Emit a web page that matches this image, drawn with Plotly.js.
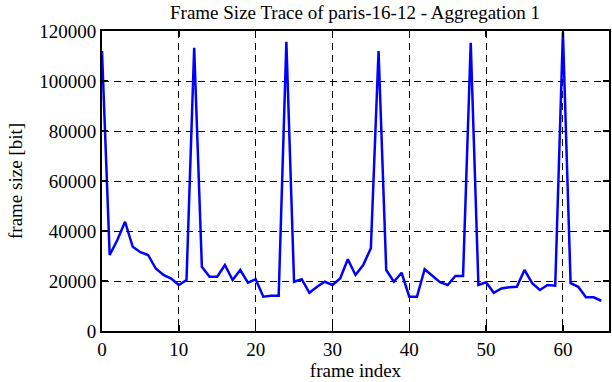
<!DOCTYPE html>
<html>
<head>
<meta charset="utf-8">
<script src="https://cdn.plot.ly/plotly-3.0.1.min.js"></script>
<style>
html,body{margin:0;padding:0;background:#fff;}
#chart{width:612px;height:382px;}
</style>
</head>
<body>
<div id="chart"></div>
<script>
const frameIndex = [];
for (let i = 0; i <= 65; i++) frameIndex.push(i);
const frameSize = [
  112000, 30400, 36400, 43700, 33700, 31500, 30400, 25000, 22400, 21000,
  18400, 20400, 113300, 25700, 21700, 21700, 26400, 20400, 24400, 19300,
  20700, 13700, 14100, 14100, 115700, 19700, 20700, 15300, 17700, 19700,
  18400, 21000, 28700, 22400, 26400, 33100, 112000, 24400, 19700, 23300,
  13700, 13700, 24700, 22000, 19500, 18400, 22000, 22000, 115300, 18400,
  19500, 15300, 17000, 17500, 17700, 24400, 19100, 16400, 18400, 18100,
  119500, 19100, 17700, 13500, 13500, 12100
];
const yTicks = [0, 20000, 40000, 60000, 80000, 100000, 120000];
const xTicks = [0, 10, 20, 30, 40, 50, 60];

const font = {family: '"Liberation Serif", "Times New Roman", serif', color: '#000'};

const trace = {
  x: frameIndex, y: frameSize, type: 'scatter', mode: 'lines',
  line: {color: '#0000ff', width: 2.5}, hoverinfo: 'none', cliponaxis: true
};

const layout = {
  width: 612, height: 382,
  margin: {l: 102, r: 3, t: 31, b: 51},
  paper_bgcolor: '#fff', plot_bgcolor: '#fff',
  showlegend: false,
  font: Object.assign({size: 19}, font),
  title: {text: 'Frame Size Trace of paris-16-12 - Aggregation 1', font: Object.assign({size: 19}, font),
          x: 0.58, xanchor: 'center', y: 0.985, yanchor: 'top'},
  xaxis: {
    range: [0, 66], tickvals: xTicks, ticktext: xTicks.map(String),
    showgrid: true, gridcolor: '#000', griddash: '7px,5px', gridwidth: 1,
    zeroline: false, showline: true, linecolor: '#000', linewidth: 2, mirror: 'ticks',
    ticks: 'inside', ticklen: 6, tickcolor: '#000', tickwidth: 1.5,
    tickfont: Object.assign({size: 19}, font),
    title: {text: 'frame index', font: Object.assign({size: 19}, font), standoff: 2}
  },
  yaxis: {
    range: [0, 120000], tickvals: yTicks, ticktext: yTicks.map(String),
    showgrid: true, gridcolor: '#000', griddash: '7px,5px', gridwidth: 1,
    zeroline: false, showline: true, linecolor: '#000', linewidth: 2, mirror: 'ticks',
    ticks: 'inside', ticklen: 6, tickcolor: '#000', tickwidth: 1.5,
    tickfont: Object.assign({size: 19}, font),
    title: {text: 'frame size [bit]', font: Object.assign({size: 19}, font), standoff: 12}
  }
};

Plotly.newPlot('chart', [trace], layout, {staticPlot: true, displayModeBar: false});
</script>
</body>
</html>
